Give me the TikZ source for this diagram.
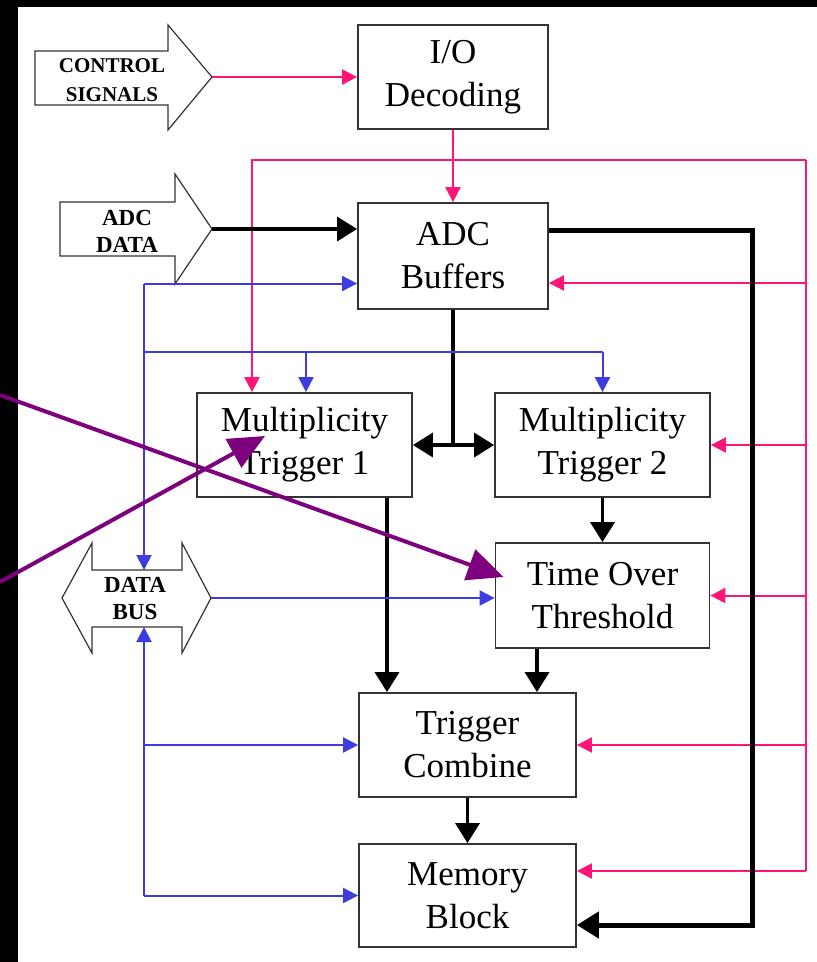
\documentclass[tikz,border=0pt]{standalone}
\usepackage{fontspec}
\setmainfont{Liberation Serif}
\usetikzlibrary{arrows.meta}
\definecolor{sigpink}{RGB}{255,20,120}
\definecolor{busblue}{RGB}{60,60,225}
\definecolor{notepurple}{RGB}{125,0,125}

\begin{document}
\begin{tikzpicture}[
		x=1pt, y=-1pt,
		block/.style={draw=black!80, line width=1.8pt, fill=white, align=center, inner sep=0pt, font=\fontsize{35}{43}\selectfont},
		narrow/.style={block, minimum width=190pt, minimum height=106pt},
		wide/.style={block, minimum width=215pt, minimum height=104pt},
		wider/.style={block, minimum width=217pt, minimum height=104pt},
		port/.style={draw=black!80, line width=1.2pt, fill=white},
		portlabel/.style={align=center, inner sep=0pt, font=\bfseries\fontsize{23}{27}\selectfont},
		sigline/.style={draw=sigpink, line width=2pt},
		sig/.style={sigline, -{Triangle[length=15pt, width=15pt]}},
		busline/.style={draw=busblue, line width=2pt},
		bus/.style={busline, -{Triangle[length=15pt, width=15pt]}},
		dataline/.style={line width=3.5pt},
		data/.style={dataline, -{Triangle[length=20pt, width=24pt]}},
		note/.style={draw=notepurple, line width=4pt, -{Triangle[length=36pt, width=32pt]}}
		]
		
		% ==========================================
		% FRAME
		% ==========================================
		\useasboundingbox (0,0) rectangle (817,962);
		\fill[black] (0,0) rectangle (817,962);
		\fill[white] (18,7) rectangle (817,962);
		
		% ==========================================
		% INPUT / OUTPUT PORTS
		% ==========================================
		\draw[port] (35,51) -- (168,51) -- (168,25) -- (212,77) -- (168,130) -- (168,105) -- (35,105) -- cycle;
		\node[portlabel, font=\bfseries\fontsize{21}{29}\selectfont] (ctrl) at (112,80) {CONTROL\\SIGNALS};
		\coordinate (ctrltip) at (212,77);
		
		\draw[port] (60,202) -- (175,202) -- (175,174) -- (212,229) -- (175,284) -- (175,256) -- (60,256) -- cycle;
		\node[portlabel] (adcdata) at (127,231) {ADC\\DATA};
		\coordinate (adctip) at (212,229);
		
		\draw[port] (92,570) -- (182,570) -- (182,543) -- (211,598) -- (182,653) -- (182,627)
			-- (92,627) -- (92,653) -- (62,598) -- (92,543) -- cycle;
		\node[portlabel] (databus) at (135,599) {DATA\\BUS};
		\coordinate (dbN) at (144,570);
		\coordinate (dbS) at (144,627);
		\coordinate (dbE) at (211,598);
		
		% ==========================================
		% BLOCKS
		% ==========================================
		\node[narrow, minimum height=104pt] (io) at (453,77) {I/O\\Decoding};
		\node[narrow] (adc) at (453,256) {ADC\\Buffers};
		\node[wide] (mt1) at (304.5,445) {Multiplicity\\Trigger 1};
		\node[wide] (mt2) at (602.5,445) {Multiplicity\\Trigger 2};
		\node[wide, minimum width=214pt, minimum height=105pt] (tot) at (602.5,595.5) {Time Over\\Threshold};
		\node[wider] (tc) at (467.5,745) {Trigger\\Combine};
		\node[wider, minimum height=103pt] (mem) at (467.5,895.5) {Memory\\Block};
		
		% ==========================================
		% CONTROL SIGNALS (pink)
		% ==========================================
		\coordinate (pkTop) at (806,160);
		\coordinate (adcP) at ([yshift=-27pt]adc.east);
		\coordinate (memP) at ([yshift=24.5pt]mem.east);
		\coordinate (mt1P) at ([xshift=-52.5pt]mt1.north);
		
		\draw[sig] (ctrltip) -- (io.west);
		\draw[sig] (io.south) -- (adc.north);
		\draw[sigline] (pkTop |- memP) -- (pkTop);
		\draw[sig] (pkTop) -| (mt1P);
		\draw[sig] (pkTop |- adcP) -- (adcP);
		\draw[sig] (pkTop |- mt2.east) -- (mt2.east);
		\draw[sig] (pkTop |- tot.east) -- (tot.east);
		\draw[sig] (pkTop |- tc.east) -- (tc.east);
		\draw[sig] (pkTop |- memP) -- (memP);
		
		% ==========================================
		% DATA PATH (black)
		% ==========================================
		\coordinate (mt1S) at ([xshift=82.5pt]mt1.south);
		\coordinate (totS) at ([xshift=-65.5pt]tot.south);
		
		\draw[data] (adctip) -- (adctip -| adc.west);
		\draw[dataline, line width=5pt, -{Triangle[length=22pt, width=26pt]}]
			([yshift=26pt]adc.east) -- ++(204,0) |- ([yshift=-29.5pt]mem.east);
		\draw[dataline] (adc.south) -- (adc.south |- mt1.east);
		\draw[dataline, {Triangle[length=20pt, width=24pt]}-{Triangle[length=20pt, width=24pt]}] (mt1.east) -- (mt2.west);
		\draw[data] (mt1S) -- (mt1S |- tc.north);
		\draw[data] (mt2.south) -- (tot.north);
		\draw[data] (totS) -- (totS |- tc.north);
		\draw[data] (tc.south) -- (tc.south |- mem.north);
		
		% ==========================================
		% DATA BUS (blue)
		% ==========================================
		\coordinate (adcB) at ([yshift=-27.5pt]adc.west);
		\coordinate (busRow) at (144,352);
		\coordinate (mt1B) at ([xshift=1.5pt]mt1.north);
		
		\draw[bus] (dbN |- adcB) -- (adcB);
		\draw[bus] (dbN |- adcB) -- (dbN);
		\draw[busline] (busRow) -- (busRow -| mt2.north);
		\draw[bus] (busRow -| mt2.north) -- (mt2.north);
		\draw[bus] (busRow -| mt1B) -- (mt1B);
		\draw[bus] (dbE) -- (dbE -| tot.west);
		\draw[bus] (dbS |- mem.west) -- (dbS);
		\draw[bus] (dbS |- tc.west) -- (tc.west);
		\draw[bus] (dbS |- mem.west) -- (mem.west);
		
		% ==========================================
		% ANNOTATION ARROWS
		% ==========================================
		\coordinate (noteA) at (0,395);
		\coordinate (noteB) at (0,582);
		\draw[note] (noteA) -- ([xshift=9pt, yshift=18.5pt]tot.west);
		\draw[note] (noteB) -- ([xshift=-39.5pt, yshift=9pt]mt1.center);
		
	\end{tikzpicture}
\end{document}
